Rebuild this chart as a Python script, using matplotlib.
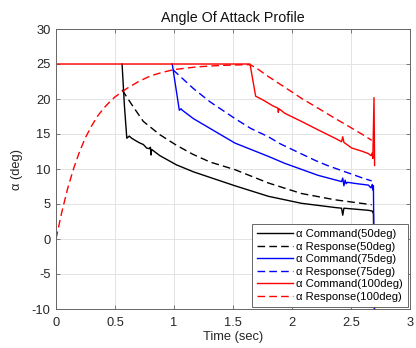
import matplotlib
matplotlib.use("Agg")
import matplotlib.pyplot as plt

plt.rcParams['font.family'] = ['Liberation Sans', 'DejaVu Sans']
plt.rcParams['axes.unicode_minus'] = False

# alpha command / response histories (time in sec, alpha in deg)
t_cmd50 = [0.56, 0.58, 0.60, 0.621, 0.641, 0.68, 0.712, 0.74, 0.768, 0.79, 0.80,
           0.805, 0.81, 0.881, 1.02, 1.164, 1.305, 1.517, 1.8, 2.08, 2.364, 2.42, 2.43,
           2.44, 2.647, 2.68, 2.69, 2.70]
a_cmd50 = [25.0, 19.0, 14.4, 14.7, 14.4, 14.0, 13.7, 13.5, 13.0, 12.9, 13.1,
           12.0, 12.8, 11.9, 10.6, 9.6, 8.8, 7.6, 6.1, 5.1, 4.5, 4.4, 3.4,
           4.4, 4.1, 4.0, 3.6, -12.0]

t_rsp50 = [0.56, 0.65, 0.74, 0.88, 1.02, 1.16, 1.305, 1.517, 1.8, 2.08, 2.364, 2.675]
a_rsp50 = [21.3, 19.0, 16.8, 14.9, 13.4, 12.1, 11.0, 9.9, 8.0, 6.5, 5.6, 4.9]

t_cmd75 = [0.985, 1.045, 1.06, 1.07, 1.164, 1.305, 1.517, 1.8, 1.94, 2.22, 2.42,
           2.43, 2.44, 2.45, 2.46, 2.47, 2.55, 2.647, 2.67, 2.68, 2.685, 2.69, 2.70]
a_cmd75 = [25.0, 18.4, 18.6, 18.4, 17.2, 15.8, 13.7, 11.8, 10.8, 9.1, 8.2,
           8.7, 7.6, 8.4, 7.9, 8.1, 7.9, 7.7, 7.3, 7.8, 7.0, 7.6, -12.0]

t_rsp75 = [0.99, 1.08, 1.164, 1.305, 1.517, 1.65, 1.8, 1.9, 2.0, 2.1, 2.2, 2.3, 2.4,
           2.5, 2.6, 2.675]
a_rsp75 = [24.2, 22.8, 21.5, 19.6, 17.2, 15.8, 14.6, 13.6, 12.8, 12.0, 11.2, 10.5,
           9.9, 9.3, 8.7, 8.3]

t_cmd100 = [0.0, 1.644, 1.67, 1.692, 1.715, 1.75, 1.8, 1.84, 1.88, 1.884, 1.89, 1.94,
            2.08, 2.22, 2.364, 2.42, 2.43, 2.44, 2.506, 2.60, 2.647, 2.67, 2.68,
            2.685, 2.695, 2.70]
a_cmd100 = [25.0, 25.0, 22.5, 20.4, 20.2, 19.9, 19.4, 19.0, 18.7, 18.1, 18.6, 17.95,
            16.8, 15.6, 14.4, 13.9, 14.6, 13.8, 13.0, 12.5, 12.2, 11.9, 12.3,
            11.5, 20.2, 10.5]

t_rsp100 = [0.0, 0.05, 0.10, 0.15, 0.20, 0.25, 0.30, 0.35, 0.40, 0.45, 0.50, 0.60,
            0.70, 0.80, 0.90, 1.00, 1.10, 1.20, 1.30, 1.40, 1.50, 1.60, 1.645,
            1.70, 1.80, 1.90, 2.00, 2.08, 2.20, 2.364, 2.50, 2.60, 2.675]
a_rsp100 = [0.0, 3.9, 7.3, 10.1, 12.5, 14.5, 16.1, 17.5, 18.6, 19.5, 20.3, 21.5,
            22.5, 23.3, 23.8, 24.2, 24.4, 24.6, 24.7, 24.8, 24.85, 24.9, 24.9,
            24.4, 23.2, 22.1, 21.0, 20.1, 18.9, 17.24, 15.9, 14.9, 14.1]

legend_labels = ['α Command(50deg)', 'α Response(50deg)',
                 'α Command(75deg)', 'α Response(75deg)',
                 'α Command(100deg)', 'α Response(100deg)']

x_ticks = [0, 0.5, 1, 1.5, 2, 2.5, 3]
x_tick_labels = ['0', '0.5', '1', '1.5', '2', '2.5', '3']
y_ticks = [-10, -5, 0, 5, 10, 15, 20, 25, 30]

fig = plt.figure(figsize=(4.16, 3.48), dpi=100)
ax = fig.add_axes([56 / 416, 39 / 348, 354 / 416, 280 / 348])

dash = (5.5, 3)
lw = 1.0
ax.plot(t_cmd50, a_cmd50, color='k', lw=lw, label=legend_labels[0])
ax.plot(t_rsp50, a_rsp50, color='k', lw=lw, ls='--', dashes=dash, label=legend_labels[1])
ax.plot(t_cmd75, a_cmd75, color='#0000ff', lw=lw, label=legend_labels[2])
ax.plot(t_rsp75, a_rsp75, color='#0000ff', lw=lw, ls='--', dashes=dash, label=legend_labels[3])
ax.plot(t_cmd100, a_cmd100, color='#ff0000', lw=lw, label=legend_labels[4])
ax.plot(t_rsp100, a_rsp100, color='#ff0000', lw=lw, ls='--', dashes=dash, label=legend_labels[5])

ax.set_xlim(0, 3)
ax.set_ylim(-10, 30)
ax.set_xticks(x_ticks)
ax.set_xticklabels(x_tick_labels)
ax.set_yticks(y_ticks)

ax.grid(True, color='#e3e3e3', lw=0.7)
ax.set_axisbelow(True)
for s in ax.spines.values():
    s.set_color('0.4')
    s.set_linewidth(0.7)
ax.tick_params(axis='both', direction='in', top=True, right=True, length=3,
               width=0.6, color='0.4', labelsize=9.3, labelcolor='#262626')
ax.tick_params(axis='x', pad=5.5)
ax.tick_params(axis='y', pad=4)

ax.set_title('Angle Of Attack Profile', fontsize=10.3, color='#111111', pad=5)
ax.set_xlabel('Time (sec)', fontsize=9.3, color='#262626', labelpad=2)
ax.set_ylabel('α (deg)', fontsize=9.3, color='#262626', labelpad=6)

leg = ax.legend(loc='lower right', fontsize=8.1, frameon=True, fancybox=False,
                framealpha=1, edgecolor='0.4', borderaxespad=0.2, borderpad=0.45,
                handlelength=3.2, handletextpad=0.3, labelspacing=0.22)
leg.get_frame().set_linewidth(0.7)

fig.savefig('out.png', dpi=100)
